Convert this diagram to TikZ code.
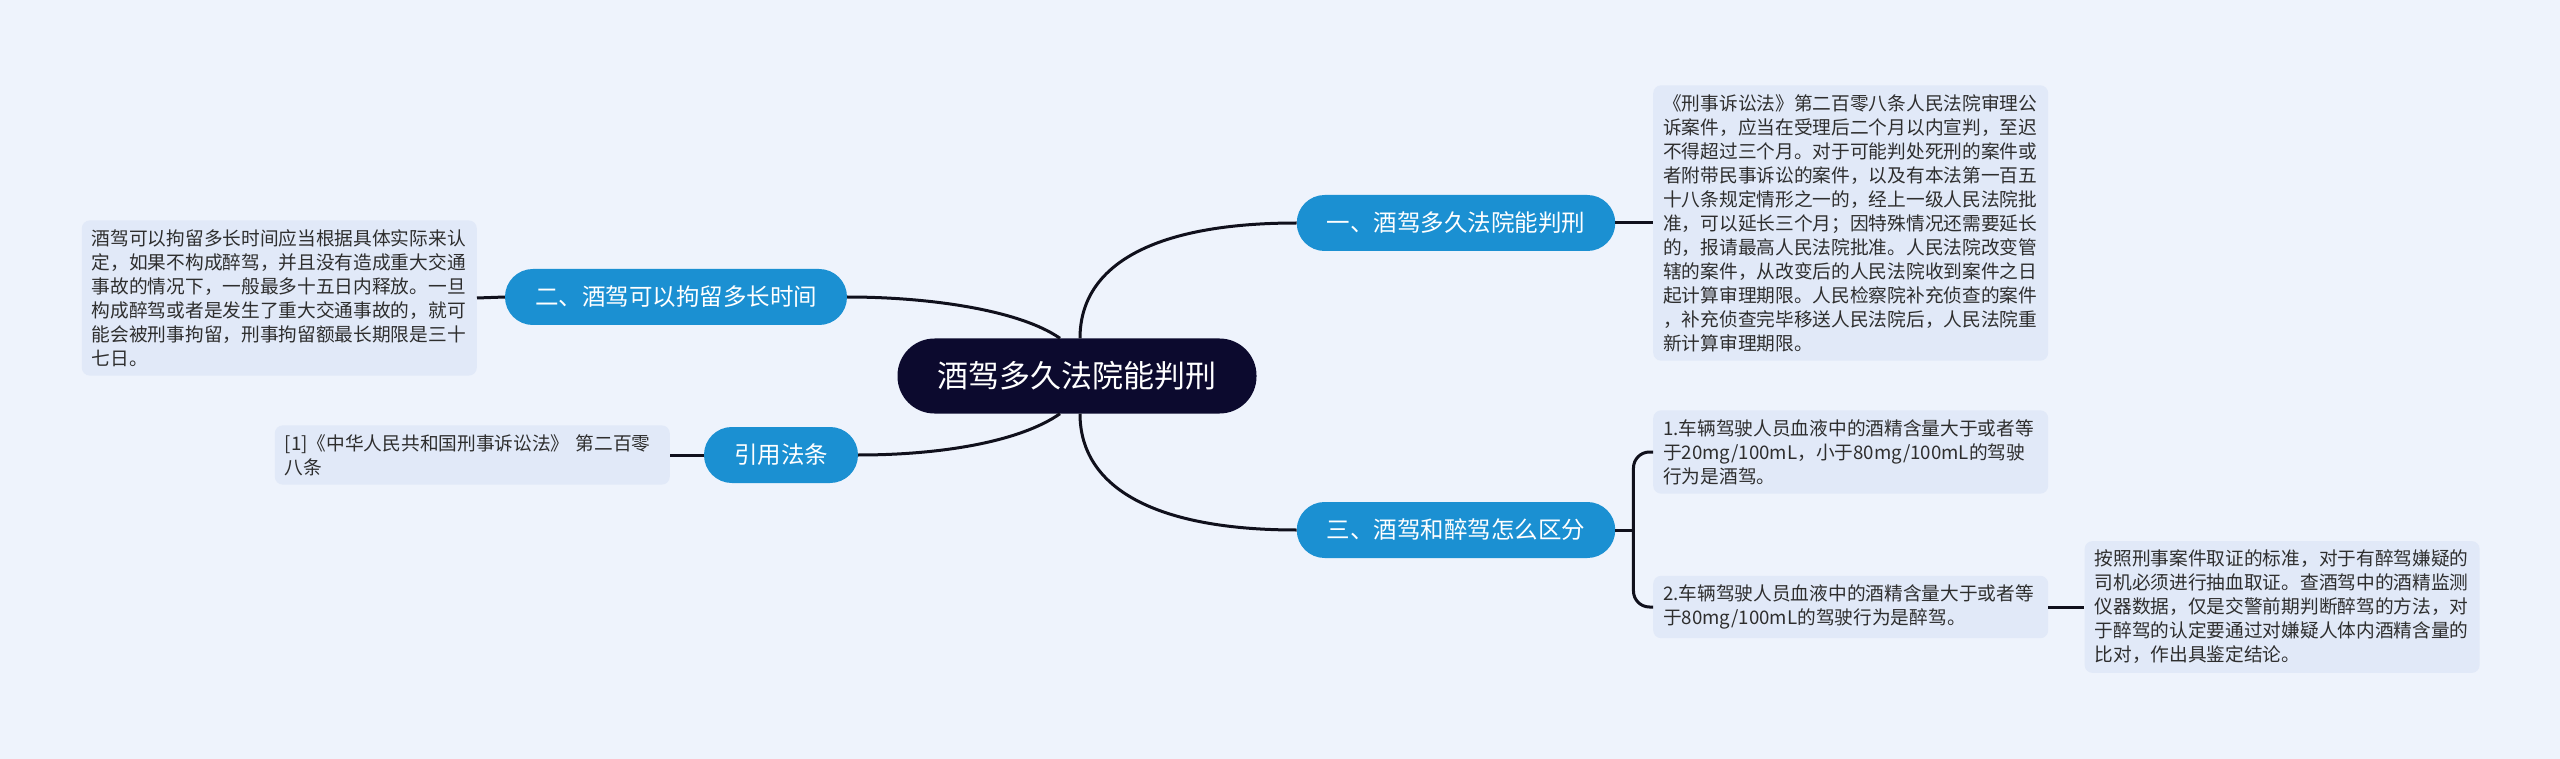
\documentclass[tikz,border=0pt]{standalone}
\usepackage{fontspec}
\setmainfont{Noto Sans CJK SC}
\usepackage{xcolor}
\usepackage{tikz}
\usetikzlibrary{positioning}
\definecolor{canvas}{HTML}{EEF3FC}
\definecolor{notefill}{HTML}{E1E9F8}
\definecolor{notetext}{HTML}{2E2E2E}
\definecolor{branchblue}{HTML}{1B90D2}
\definecolor{topicnavy}{HTML}{0C0A2E}
\definecolor{wire}{HTML}{10101C}
\tikzset{
  topic/.style={fill=topicnavy, text=white, rounded corners=37pt, minimum height=75pt, inner xsep=40pt, font=\fontsize{31}{36}\selectfont},
  branch/.style={fill=branchblue, text=white, rounded corners=27.9pt, minimum height=56pt, inner xsep=30pt, font=\fontsize{23.5}{28}\selectfont},
  note/.style={fill=notefill, text=notetext, rounded corners=8pt, text width=375pt, align=left, inner xsep=10pt, inner ysep=9pt, font=\fontsize{18.7}{24}\selectfont},
  link/.style={draw=wire, line width=3pt},
}

\begin{document}
\begin{tikzpicture}[x=1pt, y=-1pt]
  \fill[canvas] (0,0) rectangle (2560,759);
  \useasboundingbox (0,0) rectangle (2560,759);

  % central topic
  \node[topic] (n0) at (1077,376) {酒驾多久法院能判刑};

  % main branches
  \node[branch] (n1) at (1456,223) {一、酒驾多久法院能判刑};
  \node[branch] (n3) at (1456,530) {三、酒驾和醉驾怎么区分};
  \node[branch] (n2) at (676,297) {二、酒驾可以拘留多长时间};
  \node[branch] (n4) at (781,455) {引用法条};

  % text notes
  \node[note, anchor=west] (t1) at (1653,223)
    {《刑事诉讼法》第二百零八条人民法院审理公\\诉案件，应当在受理后二个月以内宣判，至迟\\不得超过三个月。对于可能判处死刑的案件或\\者附带民事诉讼的案件，以及有本法第一百五\\十八条规定情形之一的，经上一级人民法院批\\准，可以延长三个月；因特殊情况还需要延长\\的，报请最高人民法院批准。人民法院改变管\\辖的案件，从改变后的人民法院收到案件之日\\起计算审理期限。人民检察院补充侦查的案件\\，补充侦查完毕移送人民法院后，人民法院重\\新计算审理期限。};
  \node[note, anchor=west] (t31) at (1653,452)
    {1.车辆驾驶人员血液中的酒精含量大于或者等\\于20mg/100mL，小于80mg/100mL的驾驶\\行为是酒驾。};
  \node[note, anchor=west] (t32) at (1653,607)
    {2.车辆驾驶人员血液中的酒精含量大于或者等\\于80mg/100mL的驾驶行为是醉驾。};
  \node[note, right=36pt of t32] (t33)
    {按照刑事案件取证的标准，对于有醉驾嫌疑的\\司机必须进行抽血取证。查酒驾中的酒精监测\\仪器数据，仅是交警前期判断醉驾的方法，对\\于醉驾的认定要通过对嫌疑人体内酒精含量的\\比对，作出具鉴定结论。};
  \node[note, anchor=east] (t2) at (477,298)
    {酒驾可以拘留多长时间应当根据具体实际来认\\定，如果不构成醉驾，并且没有造成重大交通\\事故的情况下，一般最多十五日内释放。一旦\\构成醉驾或者是发生了重大交通事故的，就可\\能会被刑事拘留，刑事拘留额最长期限是三十\\七日。};
  \node[note, anchor=east] (t4) at (670,455)
    {[1]《中华人民共和国刑事诉讼法》 第二百零\\八条};

  % curves from the topic
  \draw[link] ([xshift=3pt]n0.north) .. controls +(0,-75) and +(-140,0) .. (n1.west);
  \draw[link] ([xshift=3pt]n0.south) .. controls +(0,75) and +(-140,0) .. (n3.west);
  \draw[link] ([xshift=-17pt]n0.north) .. controls +(-40,-28) and +(83,0) .. (n2.east);
  \draw[link] ([xshift=-17pt]n0.south) .. controls +(-40,28) and +(83,0) .. (n4.east);

  % branch to notes
  \draw[link] (n1.east) -- (t1.west);
  \draw[link] (n2.west) -- (t2.east);
  \draw[link] (n4.west) -- (t4.east);
  \coordinate[right=18pt of n3] (bk);
  \draw[link] (n3.east) -- (bk);
  \draw[link, rounded corners=16pt] (t31.west) -| (bk) |- (t32.west);
  \draw[link] (t32.east) -- (t33.west);
\end{tikzpicture}
\end{document}
